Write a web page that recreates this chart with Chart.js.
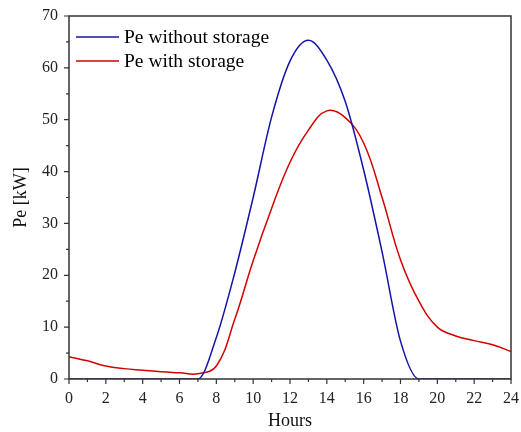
<!DOCTYPE html>
<html>
<head>
<meta charset="utf-8">
<script src="https://cdn.jsdelivr.net/npm/chart.js@4"></script>
<style>
  body { margin: 0; background: #fff; }
  #wrap { width: 521px; height: 432px; }
</style>
</head>
<body>
<div id="wrap"><canvas id="pe-chart" width="521" height="432"></canvas></div>
<script>
const hours = [0, 1, 2, 3, 4, 5, 6, 7, 8, 9, 10, 11, 12, 13, 14, 15, 16, 17, 18, 19, 20, 21, 22, 23, 24];
const peWithout = [0, 0, 0, 0, 0, 0, 0, 0, 8, 20.5, 35, 50.5, 61.3, 65.3, 61.5, 53.5, 40.3, 24.5, 7.3, 0, 0, 0, 0, 0, 0];
const peWith = [4.3, 3.5, 2.5, 2.0, 1.7, 1.4, 1.2, 1.0, 2.5, 11.5, 22.8, 32.9, 41.8, 48, 51.7, 50.4, 45.5, 35, 23, 15, 10, 8.3, 7.4, 6.6, 5.3];
const seriesLabels = ['Pe without storage', 'Pe with storage'];
const seriesColors = ['#1414aa', '#d40000'];

const serif = "'Liberation Serif', 'DejaVu Serif', serif";

// frame, ticks and legend drawn by hand (origin style)
const framePlugin = {
  id: 'frame',
  afterDraw(chart) {
    const {ctx, chartArea: a, scales} = chart;
    ctx.save();
    ctx.strokeStyle = '#333';
    ctx.lineWidth = 1.5;
    ctx.strokeRect(a.left, a.top, a.right - a.left, a.bottom - a.top);

    ctx.lineWidth = 1.2;
    ctx.beginPath();
    for (let h = 0; h <= 24; h++) {
      const x = scales.x.getPixelForValue(h);
      const len = h % 2 === 0 ? 5 : 3;
      ctx.moveTo(x, a.bottom);
      ctx.lineTo(x, a.bottom + len);
    }
    for (let v = 0; v <= 70; v += 5) {
      const y = scales.y.getPixelForValue(v);
      const len = v % 10 === 0 ? 5 : 3;
      ctx.moveTo(a.left, y);
      ctx.lineTo(a.left - len, y);
    }
    ctx.stroke();

    // legend
    ctx.font = '19.5px ' + serif;
    ctx.textBaseline = 'middle';
    ctx.fillStyle = '#000';
    chart.data.datasets.forEach((ds, i) => {
      const y = 37 + i * 24;
      ctx.strokeStyle = ds.borderColor;
      ctx.lineWidth = 1.5;
      ctx.beginPath();
      ctx.moveTo(76, y);
      ctx.lineTo(119, y);
      ctx.stroke();
      ctx.fillText(ds.label, 124, y + 1);
    });
    ctx.restore();
  }
};

const ctx = document.getElementById('pe-chart').getContext('2d');

new Chart(ctx, {
  type: 'line',
  data: {
    datasets: [
      {
        label: seriesLabels[0],
        data: hours.map((h, i) => ({x: h, y: peWithout[i]})),
        borderColor: seriesColors[0],
        borderWidth: 1.5,
        pointRadius: 0,
        cubicInterpolationMode: 'monotone',
        fill: false
      },
      {
        label: seriesLabels[1],
        data: hours.map((h, i) => ({x: h, y: peWith[i]})),
        borderColor: seriesColors[1],
        borderWidth: 1.5,
        pointRadius: 0,
        tension: 0.4,
        fill: false
      }
    ]
  },
  options: {
    responsive: false,
    animation: false,
    layout: { padding: { left: 0, right: 0, top: 16, bottom: 0 } },
    plugins: { legend: { display: false }, tooltip: { enabled: false } },
    scales: {
      x: {
        type: 'linear',
        min: 0,
        max: 24,
        grid: { display: false },
        border: { display: false },
        ticks: { stepSize: 2, padding: 2, color: '#222', font: { family: serif, size: 16 }, maxRotation: 0 },
        title: { display: true, text: 'Hours', color: '#111', font: { family: serif, size: 18 }, padding: { top: 0, bottom: 0 } },
        afterFit(scale) { scale.height = 53; }
      },
      y: {
        min: 0,
        max: 70,
        grid: { display: false },
        border: { display: false },
        ticks: { stepSize: 10, padding: 3, color: '#222', font: { family: serif, size: 16 } },
        title: { display: true, text: 'Pe [kW]', color: '#111', font: { family: serif, size: 18 }, padding: { top: 10, bottom: 0 } },
        afterFit(scale) { scale.width = 69; }
      }
    }
  },
  plugins: [framePlugin]
});
</script>
</body>
</html>
